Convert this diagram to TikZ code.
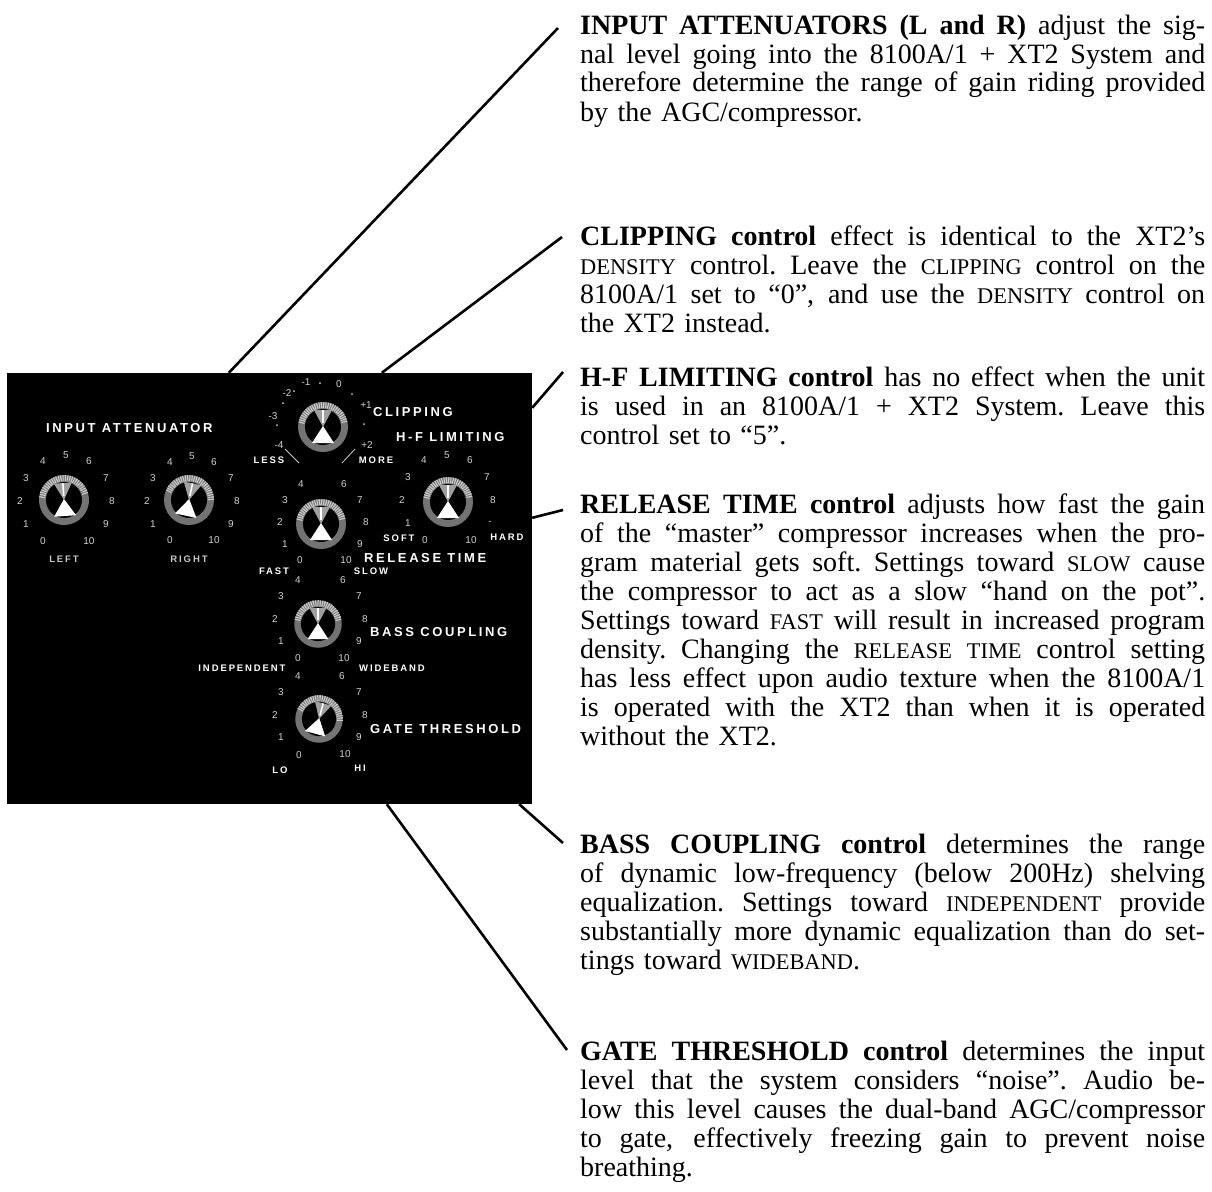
\documentclass[tikz,border=0pt]{standalone}
\usepackage{fontspec}
\setmainfont{Liberation Serif}
\newfontfamily\panelfont[LetterSpace=20]{Liberation Sans}
\newfontfamily\dialfont{Liberation Sans}
\usepackage{tikz}
\usetikzlibrary{calc}
\newcommand{\jline}[1]{\leavevmode\hbox to 625pt{\spaceskip=0.25em plus 1em minus 0.06em\xspaceskip=\spaceskip #1}}
\newcommand{\smc}[1]{{\fontsize{22.4}{29}\selectfont #1}}

\begin{document}
\begin{tikzpicture}[x=1pt,y=-1pt,
    para/.style={anchor=base west, inner sep=0pt, text width=625pt, align=left,
      font=\fontsize{28}{29}\selectfont},
    leader/.style={line width=2.6pt},
    panel/.style={fill=black, inner sep=0pt, minimum width=525pt, minimum height=431pt},
    title/.style={anchor=west, inner sep=0pt, text=white,
      font=\panelfont\bfseries\fontsize{13}{14}\selectfont},
    tag/.style={inner sep=0pt, text=white, font=\panelfont\bfseries\fontsize{9.5}{10}\selectfont},
    num/.style={inner sep=0pt, text=white!82!black, font=\dialfont\fontsize{10}{10}\selectfont},
    knob/.pic={
      \fill[black!55] (0,0) circle (25);
      \draw[white!80!black, line width=6pt, dash pattern=on 1.1pt off 1.1pt]
        (190:22) arc[start angle=190, end angle=350, radius=22];
      \fill[black] (0,0) circle (18);
      \fill[gray!75] (0,0) -- (-9,-17) -- (9,-17) -- cycle;
      \fill[white] (0,-1) -- (-11,16) -- (11,16) -- cycle;
      \draw[white, line width=1.6pt] (0,-4) -- (0,-17);
    }]
    \useasboundingbox (0,0) rectangle (1212,1191);

    % front panel
    \node[panel] (panel) at (269.5,588.5) {};

    \pic[rotate=4] (knobL) at (64,500) {knob};
    \pic[rotate=-12] (knobR) at (189,500) {knob};
    \pic (knobC) at (323,427) {knob};
    \pic (knobT) at (321,524) {knob};
    \pic (knobH) at (448,502) {knob};
    \pic[scale=0.95] (knobB) at (318,624) {knob};
    \pic[scale=0.95, rotate=-15] (knobG) at (319,719) {knob};

    \node[title] (attn) at (46,428) {INPUT ATTENUATOR};
    \node[title] (clip) at (373,412) {CLIPPING};
    \node[title] (hflim) at (396,437) {H-F LIMITING};
    \node[title] (reltime) at (364,558) {RELEASE TIME};
    \node[title] (basscpl) at (370,632) {BASS COUPLING};
    \node[title] (gatethr) at (370,729) {GATE THRESHOLD};

    \node[tag, text=gray!45] (left) at (64,559) {LEFT};
    \node[tag, text=gray!45] (right) at (189,559) {RIGHT};
    \node[tag] (less) at (269,460) {LESS};
    \node[tag] (more) at (376,460) {MORE};
    \node[tag] (soft) at (399,538) {SOFT};
    \node[tag] (hard) at (507,537) {HARD};
    \node[tag] (fast) at (274,571) {FAST};
    \node[tag] (slow) at (371,571) {SLOW};
    \node[tag] (indep) at (242,668) {INDEPENDENT};
    \node[tag] (wide) at (392,668) {WIDEBAND};
    \node[tag] (lo) at (280,770) {LO};
    \node[tag] (hi) at (360,768) {HI};

    % left attenuator scale
    \node[num] (L0) at (43,541) {0};
    \node[num] (L1) at (26,524) {1};
    \node[num] (L2) at (20,501) {2};
    \node[num] (L3) at (26,478) {3};
    \node[num] (L4) at (43,461) {4};
    \node[num] (L5) at (66,455) {5};
    \node[num] (L6) at (89,461) {6};
    \node[num] (L7) at (106,478) {7};
    \node[num] (L8) at (112,501) {8};
    \node[num] (L9) at (106,524) {9};
    \node[num] (L10) at (89,541) {10};

    % right attenuator scale
    \node[num] (R0) at (170,540) {0};
    \node[num] (R1) at (153,524) {1};
    \node[num] (R2) at (147,501) {2};
    \node[num] (R3) at (153,478) {3};
    \node[num] (R4) at (170,462) {4};
    \node[num] (R5) at (192,456) {5};
    \node[num] (R6) at (214,462) {6};
    \node[num] (R7) at (231,478) {7};
    \node[num] (R8) at (237,501) {8};
    \node[num] (R9) at (231,524) {9};
    \node[num] (R10) at (214,540) {10};

    % clipping scale
    \node[num] (Cm4) at (279,445) {-4};
    \node[num] (Cm3) at (273,416) {-3};
    \node[num] (Cm2) at (287,393) {-2};
    \node[num] (Cm1) at (306,382) {-1};
    \node[num] (C0) at (339,384) {0};
    \node[num] (Cp1) at (366,405) {+1};
    \node[num] (Cp2) at (367,445) {+2};
    \fill[white!80!black] (294,391) circle (1) (320,383) circle (1) (283,403) circle (1)
      (277,425) circle (1) (352,394) circle (1) (364,424) circle (1);
    \draw[white!80!black, line width=0.8pt] (285,449) -- (299,463);
    \draw[white!80!black, line width=0.8pt] (355,449) -- (342,463);

    % release time scale
    \node[num] (T0) at (300,560) {0};
    \node[num] (T1) at (285,544) {1};
    \node[num] (T2) at (280,522) {2};
    \node[num] (T3) at (285,500) {3};
    \node[num] (T4) at (301,484) {4};
    \node[num] (T6) at (344,484) {6};
    \node[num] (T7) at (360,500) {7};
    \node[num] (T8) at (366,522) {8};
    \node[num] (T9) at (360,544) {9};
    \node[num] (T10) at (346,560) {10};

    % h-f limiting scale
    \node[num] (H0) at (425,540) {0};
    \node[num] (H1) at (408,523) {1};
    \node[num] (H2) at (402,500) {2};
    \node[num] (H3) at (408,477) {3};
    \node[num] (H4) at (424,460) {4};
    \node[num] (H5) at (447,455) {5};
    \node[num] (H6) at (470,460) {6};
    \node[num] (H7) at (487,477) {7};
    \node[num] (H8) at (493,500) {8};
    \node[num] (H9) at (490,523) {-};
    \node[num] (H10) at (471,540) {10};

    % bass coupling scale
    \node[num] (B0) at (298,658) {0};
    \node[num] (B1) at (281,641) {1};
    \node[num] (B2) at (275,619) {2};
    \node[num] (B3) at (281,596) {3};
    \node[num] (B4) at (298,580) {4};
    \node[num] (B6) at (343,580) {6};
    \node[num] (B7) at (359,596) {7};
    \node[num] (B8) at (365,619) {8};
    \node[num] (B9) at (359,641) {9};
    \node[num] (B10) at (344,658) {10};

    % gate threshold scale
    \node[num] (G0) at (299,755) {0};
    \node[num] (G1) at (281,737) {1};
    \node[num] (G2) at (275,715) {2};
    \node[num] (G3) at (281,692) {3};
    \node[num] (G4) at (298,676) {4};
    \node[num] (G6) at (342,676) {6};
    \node[num] (G7) at (359,692) {7};
    \node[num] (G8) at (365,715) {8};
    \node[num] (G9) at (359,737) {9};
    \node[num] (G10) at (345,754) {10};

    % descriptions
    \node[para] (inputtext) at (580,34) {\jline{\textbf{INPUT ATTENUATORS (L and R)} adjust the sig-}\\
      \jline{nal level going into the 8100A/1 + XT2 System and}\\
      \jline{therefore determine the range of gain riding provided}\\
      by the AGC/compressor.};
    \node[para] (cliptext) at (580,245) {\jline{\textbf{CLIPPING control} effect is identical to the XT2's}\\
      \jline{\smc{DENSITY} control. Leave the \smc{CLIPPING} control on the}\\
      \jline{8100A/1 set to ``0'', and use the \smc{DENSITY} control on}\\
      the XT2 instead.};
    \node[para] (hftext) at (580,386) {\jline{\textbf{H-F LIMITING control} has no effect when the unit}\\
      \jline{is used in an 8100A/1 + XT2 System. Leave this}\\
      control set to ``5''.};
    \node[para] (reltext) at (580,513) {\jline{\textbf{RELEASE TIME control} adjusts how fast the gain}\\
      \jline{of the ``master'' compressor increases when the pro-}\\
      \jline{gram material gets soft. Settings toward \smc{SLOW} cause}\\
      \jline{the compressor to act as a slow ``hand on the pot''.}\\
      \jline{Settings toward \smc{FAST} will result in increased program}\\
      \jline{density. Changing the \smc{RELEASE TIME} control setting}\\
      \jline{has less effect upon audio texture when the 8100A/1}\\
      \jline{is operated with the XT2 than when it is operated}\\
      without the XT2.};
    \node[para] (basstext) at (580,853) {\jline{\textbf{BASS COUPLING control} determines the range}\\
      \jline{of dynamic low-frequency (below 200Hz) shelving}\\
      \jline{equalization. Settings toward \smc{INDEPENDENT} provide}\\
      \jline{substantially more dynamic equalization than do set-}\\
      tings toward \smc{WIDEBAND}.};
    \node[para] (gatetext) at (580,1060) {\jline{\textbf{GATE THRESHOLD control} determines the input}\\
      \jline{level that the system considers ``noise''. Audio be-}\\
      \jline{low this level causes the dual-band AGC/compressor}\\
      \jline{to gate, effectively freezing gain to prevent noise}\\
      breathing.};

    % leaders
    \coordinate (inA) at ($(panel.north west)+(222,0)$);
    \coordinate (inB) at ($(inputtext.base west)+(-22,-6)$);
    \coordinate (clA) at ($(panel.north west)+(375,0)$);
    \coordinate (clB) at ($(cliptext.base west)+(-18,-8)$);
    \coordinate (hfA) at ($(panel.north east)+(0,35)$);
    \coordinate (hfB) at ($(hftext.base west)+(-17,-14)$);
    \coordinate (relA) at ($(panel.north east)+(0,145)$);
    \coordinate (relB) at ($(reltext.base west)+(-17,-3)$);
    \coordinate (bsA) at ($(panel.south east)+(-13,0)$);
    \coordinate (bsB) at ($(basstext.base west)+(-17,-10)$);
    \coordinate (gtA) at ($(panel.south west)+(380,0)$);
    \coordinate (gtB) at ($(gatetext.base west)+(-13,-10)$);

    \draw[leader] (inA) -- (inB);
    \draw[leader] (clA) -- (clB);
    \draw[leader] (hfA) -- (hfB);
    \draw[leader] (relA) -- (relB);
    \draw[leader] (bsA) -- (bsB);
    \draw[leader] (gtA) -- (gtB);
\end{tikzpicture}
\end{document}
